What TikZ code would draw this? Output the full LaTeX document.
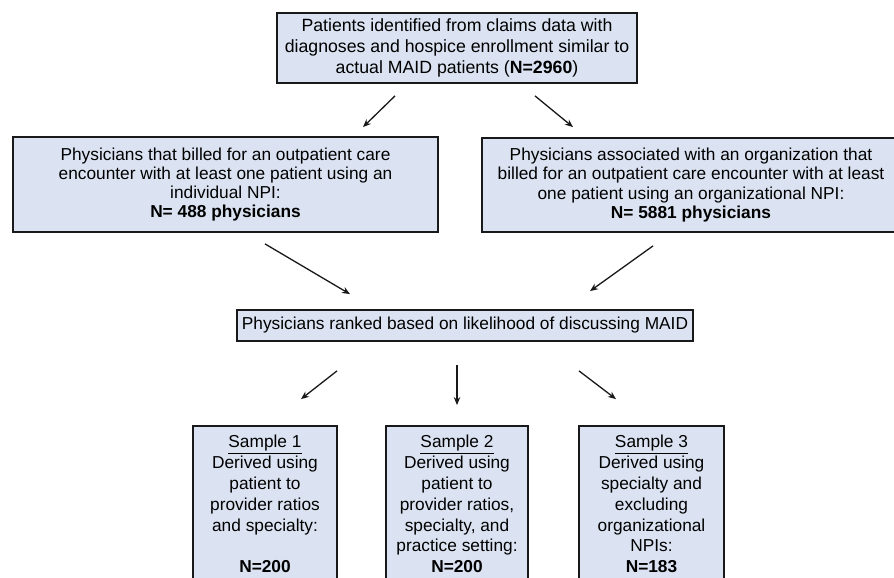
\documentclass[tikz,border=0pt]{standalone}
\usepackage{fontspec}
\setmainfont{Liberation Sans}
\usetikzlibrary{arrows.meta}
\definecolor{boxfill}{RGB}{219,227,242}
\definecolor{ink}{RGB}{25,25,25}
\tikzset{
  box/.style={draw=ink, line width=1.8pt, fill=boxfill, inner sep=0pt, align=center},
  arr/.style={draw=ink, line width=1.3pt, -{Stealth[length=8pt,width=6.5pt]}},
  txt/.style={inner sep=0pt, align=center},
}
\begin{document}
\begin{tikzpicture}[x=1pt,y=-1pt]
\useasboundingbox (0,0) rectangle (894,578);
\clip (0,0) rectangle (894,578);
\fill[white] (0,0) rectangle (894,578);
% top box
\node[box, minimum width=360pt, minimum height=70pt,
      font=\fontsize{17.7pt}{21pt}\selectfont] (top) at (457,48)
  {Patients identified from claims data with\\
   diagnoses and hospice enrollment similar to\\
   actual MAID patients (\textbf{N=2960})};
% middle boxes
\node[box, minimum width=425pt, minimum height=95pt,
      font=\fontsize{17.3pt}{19.2pt}\selectfont] (left) at (225.5,184.5)
  {Physicians that billed for an outpatient care\\
   encounter with at least one patient using an\\
   individual NPI:\\
   \textbf{N= 488 physicians}};
\node[box, minimum width=418pt, minimum height=94pt,
      font=\fontsize{17.3pt}{19.2pt}\selectfont] (right) at (691,185)
  {Physicians associated with an organization that\\
   billed for an outpatient care encounter with at least\\
   one patient using an organizational NPI:\\
   \textbf{N= 5881 physicians}};
% ranking box
\node[box, minimum width=456pt, minimum height=31pt,
      font=\fontsize{17.3pt}{19pt}\selectfont] (rank) at (465,325.5)
  {Physicians ranked based on likelihood of discussing MAID};
% bottom boxes
\node[box, minimum width=144pt, minimum height=180pt] (b1) at (265,516) {};
\node[box, minimum width=142pt, minimum height=180pt] (b2) at (457,516) {};
\node[box, minimum width=145pt, minimum height=180pt] (b3) at (651.5,516) {};
\node[txt, anchor=north, font=\fontsize{17.3pt}{20.8pt}\selectfont] (t1) at ([yshift=-10pt]b1.north)
  {\underline{Sample 1}\\ Derived using\\ patient to\\ provider ratios\\ and specialty:\\[20.8pt] \textbf{N=200}};
\node[txt, anchor=north, font=\fontsize{17.3pt}{20.8pt}\selectfont] (t2) at ([yshift=-10pt]b2.north)
  {\underline{Sample 2}\\ Derived using\\ patient to\\ provider ratios,\\ specialty, and\\ practice setting:\\ \textbf{N=200}};
\node[txt, anchor=north, font=\fontsize{17.3pt}{20.8pt}\selectfont] (t3) at ([yshift=-10pt]b3.north)
  {\underline{Sample 3}\\ Derived using\\ specialty and\\ excluding\\ organizational\\ NPIs:\\ \textbf{N=183}};
% arrows
\draw[arr] ([xshift=-62pt,yshift=-12pt]top.south) -- ([xshift=137.5pt,yshift=9pt]left.north);
\draw[arr] ([xshift=78pt,yshift=-12pt]top.south) -- ([xshift=-118pt,yshift=10pt]right.north);
\draw[arr] ([xshift=39.5pt,yshift=-11pt]left.south) -- ([xshift=-115pt,yshift=15pt]rank.north);
\draw[arr] ([xshift=-38pt,yshift=-13pt]right.south) -- ([xshift=125pt,yshift=18pt]rank.north);
\draw[arr] ([xshift=-128pt,yshift=-29pt]rank.south) -- ([xshift=36pt,yshift=26pt]b1.north);
\draw[arr] ([xshift=-8pt,yshift=-23pt]rank.south) -- ([xshift=0pt,yshift=20pt]b2.north);
\draw[arr] ([xshift=114pt,yshift=-29pt]rank.south) -- ([xshift=-35.5pt,yshift=26pt]b3.north);
\end{tikzpicture}
\end{document}
